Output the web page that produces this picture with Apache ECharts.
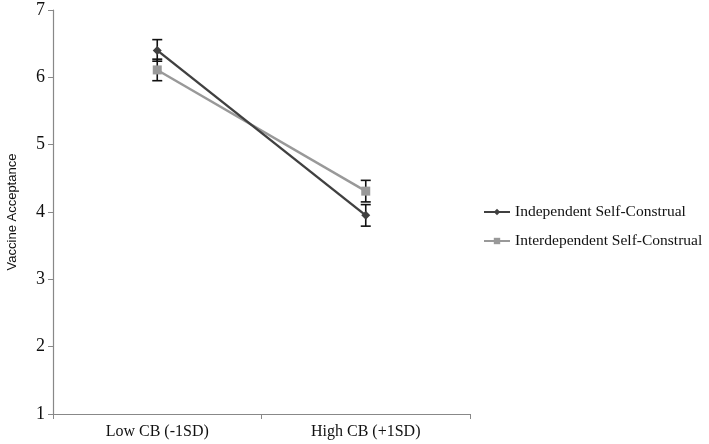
<!DOCTYPE html>
<html><head><meta charset="utf-8">
<script src="https://cdn.jsdelivr.net/npm/echarts@6/dist/echarts.min.js"></script>
<style>html,body{margin:0;padding:0;background:#fff}#c{width:709px;height:444px}</style>
</head><body><div id="c"></div>
<script>
const categories = ['Low CB (-1SD)', 'High CB (+1SD)'];
const independent = [6.40, 3.95];
const independentErr = [0.16, 0.16];
const interdependent = [6.11, 4.31];
const interdependentErr = [0.16, 0.16];
const yTicks = [1, 2, 3, 4, 5, 6, 7];

const chart = echarts.init(document.getElementById('c'));
function errSeries(vals, errs) {
  return {
    type: 'custom',
    z: 1,
    silent: true,
    data: vals.map((v, i) => [i, v - errs[i], v + errs[i]]),
    renderItem: function (params, api) {
      const lo = api.coord([api.value(0), api.value(1)]);
      const hi = api.coord([api.value(0), api.value(2)]);
      const w = 5;
      const st = { stroke: '#111', lineWidth: 1.6 };
      return { type: 'group', children: [
        { type: 'line', shape: { x1: lo[0], y1: lo[1], x2: hi[0], y2: hi[1] }, style: st },
        { type: 'line', shape: { x1: lo[0] - w, y1: lo[1], x2: lo[0] + w, y2: lo[1] }, style: st },
        { type: 'line', shape: { x1: hi[0] - w, y1: hi[1], x2: hi[0] + w, y2: hi[1] }, style: st }
      ]};
    }
  };
}
const serif = 'Liberation Serif';
chart.setOption({
  animation: false,
  grid: { left: 53, right: 239, top: 10, bottom: 30, containLabel: false, outerBoundsMode: 'none' },
  xAxis: {
    type: 'category', data: categories, boundaryGap: true,
    axisLine: { lineStyle: { color: '#888', width: 1.2 } },
    axisTick: { show: true, length: 5, lineStyle: { color: '#888' } },
    axisLabel: { color: '#111', fontFamily: serif, fontSize: 16, margin: 10 }
  },
  yAxis: {
    type: 'value', min: 1, max: 7, interval: 1,
    name: 'Vaccine Acceptance', nameLocation: 'middle', nameGap: 34,
    nameTextStyle: { color: '#111', fontFamily: 'Liberation Sans', fontSize: 13 },
    axisLine: { show: true, lineStyle: { color: '#888', width: 1.2 } },
    axisTick: { show: true, length: 5, lineStyle: { color: '#888' } },
    splitLine: { show: false },
    axisLabel: { color: '#111', fontFamily: serif, fontSize: 18, margin: 8,
      formatter: v => yTicks.includes(v) ? String(v) : '' }
  },
  legend: {
    orient: 'vertical', left: 478, top: 199, itemGap: 13, itemWidth: 26, itemHeight: 8,
    textStyle: { color: '#111', fontFamily: serif, fontSize: 15.5 },
    data: ['Independent Self-Construal', 'Interdependent Self-Construal']
  },
  series: [
    errSeries(independent, independentErr),
    errSeries(interdependent, interdependentErr),
    { name: 'Independent Self-Construal', type: 'line', data: independent, z: 3,
      symbol: 'diamond', symbolSize: 9,
      lineStyle: { color: '#404040', width: 2.4 }, itemStyle: { color: '#404040' } },
    { name: 'Interdependent Self-Construal', type: 'line', data: interdependent, z: 2,
      symbol: 'rect', symbolSize: 9,
      lineStyle: { color: '#999', width: 2.4 }, itemStyle: { color: '#999' } }
  ]
});
</script></body></html>
